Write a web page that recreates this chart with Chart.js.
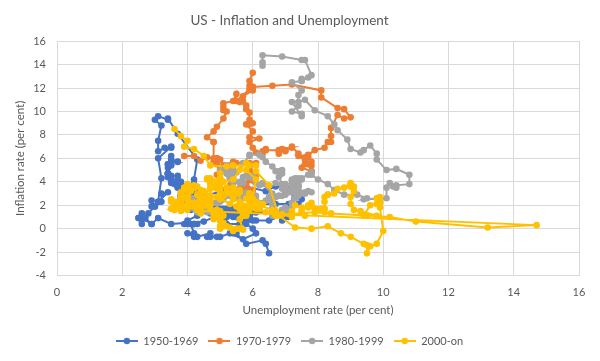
<!DOCTYPE html>
<html>
<head>
<meta charset="utf-8">
<script src="https://cdn.jsdelivr.net/npm/chart.js@4"></script>
<style>
  body { margin: 0; background: #fff; }
</style>
</head>
<body>
<canvas id="canvas" width="600" height="361"></canvas>
<script>
// monthly unemployment rate (x) and CPI inflation (y), per period
const unemp5069 = [
    6.5, 6.4, 6.3, 5.8, 5.5, 5.4, 5.0, 4.5, 4.4, 4.2, 4.2, 4.3,
    3.7, 3.4, 3.4, 3.1, 3.0, 3.2, 3.1, 3.1, 3.3, 3.5, 3.5, 3.1,
    3.2, 3.1, 2.9, 2.9, 3.0, 3.2, 3.2, 3.4, 3.1, 3.0, 2.8, 2.7,
    2.9, 2.6, 2.6, 2.7, 2.5, 2.5, 2.6, 2.7, 2.9, 3.1, 3.5, 4.5,
    4.9, 5.2, 5.7, 5.9, 5.9, 5.6, 5.8, 6.0, 6.1, 5.7, 5.3, 5.0,
    4.9, 4.7, 4.6, 4.7, 4.3, 4.2, 4.0, 4.2, 4.1, 4.3, 4.2, 4.2,
    4.0, 3.9, 4.2, 4.0, 4.3, 4.3, 4.4, 4.1, 3.9, 3.9, 4.3, 4.2,
    4.2, 3.9, 3.7, 3.9, 4.1, 4.3, 4.2, 4.1, 4.4, 4.5, 5.1, 5.2,
    5.8, 6.4, 6.7, 7.4, 7.4, 7.3, 7.5, 7.4, 7.1, 6.7, 6.2, 6.2,
    6.0, 5.9, 5.6, 5.2, 5.1, 5.0, 5.1, 5.2, 5.5, 5.7, 5.8, 5.3,
    5.2, 4.8, 5.4, 5.2, 5.1, 5.4, 5.5, 5.6, 5.5, 6.1, 6.1, 6.6,
    6.6, 6.9, 6.9, 7.0, 7.1, 6.9, 7.0, 6.6, 6.7, 6.5, 6.1, 6.0,
    5.8, 5.5, 5.6, 5.6, 5.5, 5.5, 5.4, 5.7, 5.6, 5.4, 5.7, 5.5,
    5.7, 5.9, 5.7, 5.7, 5.9, 5.6, 5.6, 5.4, 5.5, 5.5, 5.7, 5.5,
    5.6, 5.4, 5.4, 5.3, 5.1, 5.2, 4.9, 5.0, 5.1, 5.1, 4.8, 5.0,
    4.9, 5.1, 4.7, 4.8, 4.6, 4.6, 4.4, 4.4, 4.3, 4.2, 4.1, 4.0,
    4.0, 3.8, 3.8, 3.8, 3.9, 3.8, 3.8, 3.8, 3.7, 3.7, 3.6, 3.8,
    3.9, 3.8, 3.8, 3.8, 3.8, 3.9, 3.8, 3.8, 3.8, 4.0, 3.9, 3.8,
    3.7, 3.8, 3.7, 3.5, 3.5, 3.7, 3.7, 3.5, 3.4, 3.4, 3.4, 3.4,
    3.4, 3.4, 3.4, 3.4, 3.4, 3.5, 3.5, 3.5, 3.7, 3.7, 3.5, 3.5
];
const infl5069 = [
    -2.1, -1.3, -1.0, -1.3, -0.4, -0.4, 1.7, 2.2, 2.2, 3.8, 4.2, 5.9,
    8.1, 9.4, 9.3, 9.6, 9.3, 8.8, 7.5, 6.6, 6.9, 6.9, 7.0, 6.0,
    4.3, 2.3, 1.9, 2.4, 1.9, 2.3, 3.0, 3.1, 2.3, 1.9, 1.3, 0.9,
    0.4, 0.9, 1.3, 0.9, 0.9, 0.9, 0.4, 0.9, 0.4, 0.9, 0.4, 0.6,
    1.1, 1.5, 1.1, 0.8, 0.8, 0.4, 0.4, 0.0, -0.4, -0.9, -0.4, -0.7,
    -0.7, -0.7, -0.7, -0.4, -0.7, -0.7, -0.4, -0.4, 0.4, 0.4, 0.4, 0.4,
    0.4, 0.4, 0.4, 0.7, 1.1, 1.9, 2.2, 1.9, 1.9, 2.2, 2.2, 3.0,
    2.9, 3.6, 3.6, 3.6, 3.6, 3.3, 3.3, 3.6, 3.2, 2.8, 3.2, 2.9,
    3.6, 3.2, 3.6, 3.6, 3.2, 2.8, 2.5, 2.1, 2.1, 2.1, 2.1, 1.8,
    1.4, 1.1, 0.4, 0.4, 0.4, 0.7, 0.7, 1.1, 1.4, 1.7, 1.4, 1.7,
    1.0, 1.7, 1.7, 1.7, 1.7, 1.7, 1.4, 1.4, 1.0, 1.4, 1.4, 1.4,
    1.7, 1.4, 1.4, 1.0, 1.0, 0.7, 1.4, 1.0, 1.4, 0.7, 0.7, 0.7,
    0.7, 1.0, 1.0, 1.3, 1.3, 1.3, 1.0, 1.3, 1.3, 1.3, 1.3, 1.3,
    1.3, 1.0, 1.0, 1.0, 1.0, 1.3, 1.3, 1.3, 1.0, 1.3, 1.3, 1.6,
    1.6, 1.6, 1.3, 1.3, 1.3, 1.3, 1.3, 1.0, 1.3, 1.0, 1.3, 1.0,
    1.0, 1.0, 1.3, 1.6, 1.6, 1.9, 1.6, 1.9, 1.6, 1.9, 1.6, 1.9,
    1.9, 2.5, 2.5, 2.8, 2.8, 2.5, 2.8, 3.5, 3.5, 3.8, 3.8, 3.5,
    3.5, 2.8, 2.8, 2.5, 2.5, 2.8, 2.8, 2.5, 2.8, 2.5, 2.8, 3.1,
    3.7, 4.0, 4.0, 3.9, 4.2, 4.2, 4.5, 4.5, 4.4, 4.7, 4.7, 4.7,
    4.4, 4.7, 5.2, 5.5, 5.5, 5.5, 5.4, 5.7, 5.7, 5.7, 5.9, 6.2
];

const unemp7079 = [
    3.9, 4.2, 4.4, 4.6, 4.8, 4.9, 5.0, 5.1, 5.4, 5.5, 5.9, 6.1,
    5.9, 5.9, 6.0, 5.9, 5.9, 5.9, 6.0, 6.1, 6.0, 5.8, 6.0, 6.0,
    5.8, 5.7, 5.8, 5.7, 5.7, 5.7, 5.6, 5.6, 5.5, 5.6, 5.3, 5.2,
    4.9, 5.0, 4.9, 5.0, 4.9, 4.9, 4.8, 4.8, 4.8, 4.6, 4.8, 4.9,
    5.1, 5.2, 5.1, 5.1, 5.1, 5.4, 5.5, 5.5, 5.9, 6.0, 6.6, 7.2,
    8.1, 8.1, 8.6, 8.8, 9.0, 8.8, 8.6, 8.4, 8.4, 8.4, 8.3, 8.2,
    7.9, 7.7, 7.6, 7.7, 7.4, 7.6, 7.8, 7.8, 7.6, 7.7, 7.8, 7.8,
    7.5, 7.6, 7.4, 7.2, 7.0, 7.2, 6.9, 7.0, 6.8, 6.8, 6.8, 6.4,
    6.4, 6.3, 6.3, 6.1, 6.0, 5.9, 6.2, 5.9, 6.0, 5.8, 5.9, 6.0,
    5.9, 5.9, 5.8, 5.8, 5.6, 5.7, 5.7, 6.0, 5.9, 6.0, 5.9, 6.0
];
const infl7079 = [
    6.2, 6.2, 5.8, 6.1, 6.0, 6.0, 5.9, 5.4, 5.7, 5.6, 5.6, 5.6,
    5.3, 5.0, 4.7, 4.2, 4.4, 4.6, 4.4, 4.6, 4.1, 3.8, 3.3, 3.3,
    3.3, 3.5, 3.5, 3.5, 3.2, 2.7, 2.9, 2.9, 3.2, 3.4, 3.7, 3.4,
    3.6, 3.9, 4.6, 5.1, 5.5, 6.0, 5.7, 7.4, 7.4, 7.8, 8.3, 8.7,
    9.4, 10.0, 10.4, 10.1, 10.7, 10.9, 11.5, 10.9, 11.9, 12.1, 12.2, 12.3,
    11.8, 11.2, 10.3, 10.2, 9.5, 9.4, 9.7, 8.6, 7.9, 7.4, 7.4, 6.9,
    6.7, 6.3, 6.1, 6.1, 6.2, 5.9, 5.4, 5.7, 5.5, 5.5, 4.9, 4.9,
    5.2, 6.0, 6.4, 7.0, 6.7, 6.9, 6.8, 6.6, 6.6, 6.4, 6.7, 6.7,
    6.8, 6.4, 6.6, 6.5, 6.9, 7.4, 7.7, 7.8, 8.3, 8.9, 8.9, 9.0,
    9.3, 9.9, 10.2, 10.5, 10.8, 10.9, 11.3, 11.8, 12.2, 12.1, 12.6, 13.3
];

const unemp8099 = [
    6.3, 6.3, 6.3, 6.9, 7.5, 7.6, 7.8, 7.7, 7.5, 7.5, 7.5, 7.2,
    7.5, 7.4, 7.4, 7.2, 7.5, 7.5, 7.2, 7.4, 7.6, 7.9, 8.3, 8.5,
    8.6, 8.9, 9.0, 9.3, 9.4, 9.6, 9.8, 9.8, 10.1, 10.4, 10.8, 10.8,
    10.4, 10.4, 10.3, 10.2, 10.1, 10.1, 9.4, 9.5, 9.2, 8.8, 8.5, 8.3,
    8.0, 7.8, 7.8, 7.7, 7.4, 7.2, 7.5, 7.5, 7.3, 7.4, 7.2, 7.3,
    7.3, 7.2, 7.2, 7.3, 7.2, 7.4, 7.4, 7.1, 7.1, 7.1, 7.0, 7.0,
    6.7, 7.2, 7.2, 7.1, 7.2, 7.2, 7.0, 6.9, 7.0, 7.0, 6.9, 6.6,
    6.6, 6.6, 6.6, 6.3, 6.3, 6.2, 6.1, 6.0, 5.9, 6.0, 5.8, 5.7,
    5.7, 5.7, 5.7, 5.4, 5.6, 5.4, 5.4, 5.6, 5.4, 5.4, 5.3, 5.3,
    5.4, 5.2, 5.0, 5.2, 5.2, 5.3, 5.2, 5.2, 5.3, 5.3, 5.4, 5.4,
    5.4, 5.3, 5.2, 5.4, 5.4, 5.2, 5.5, 5.7, 5.9, 5.9, 6.2, 6.3,
    6.4, 6.6, 6.8, 6.7, 6.9, 6.9, 6.8, 6.9, 6.9, 7.0, 7.0, 7.3,
    7.3, 7.4, 7.4, 7.4, 7.6, 7.8, 7.7, 7.6, 7.6, 7.3, 7.4, 7.4,
    7.3, 7.1, 7.0, 7.1, 7.1, 7.0, 6.9, 6.8, 6.7, 6.8, 6.6, 6.5,
    6.6, 6.6, 6.5, 6.4, 6.1, 6.1, 6.1, 6.0, 5.9, 5.8, 5.6, 5.5,
    5.6, 5.4, 5.4, 5.8, 5.6, 5.6, 5.7, 5.7, 5.6, 5.5, 5.6, 5.6,
    5.6, 5.5, 5.5, 5.6, 5.6, 5.3, 5.5, 5.1, 5.2, 5.2, 5.4, 5.4,
    5.3, 5.2, 5.2, 5.1, 4.9, 5.0, 4.9, 4.8, 4.9, 4.7, 4.6, 4.7,
    4.6, 4.6, 4.7, 4.3, 4.4, 4.5, 4.5, 4.5, 4.6, 4.5, 4.4, 4.4,
    4.3, 4.4, 4.2, 4.3, 4.2, 4.3, 4.3, 4.2, 4.2, 4.1, 4.1, 4.0
];
const infl8099 = [
    13.9, 14.2, 14.8, 14.7, 14.4, 14.4, 13.1, 12.9, 12.6, 12.8, 12.6, 12.5,
    11.8, 11.4, 10.5, 10.0, 9.8, 9.6, 10.8, 10.8, 11.0, 10.1, 9.6, 8.9,
    8.4, 7.6, 6.8, 6.5, 6.7, 7.1, 6.4, 5.9, 5.0, 5.1, 4.6, 3.8,
    3.7, 3.5, 3.6, 3.9, 3.5, 2.6, 2.5, 2.6, 2.9, 2.9, 3.3, 3.8,
    4.2, 4.6, 4.8, 4.6, 4.2, 4.2, 4.2, 4.3, 4.3, 4.3, 4.1, 3.9,
    3.5, 3.5, 3.7, 3.7, 3.8, 3.8, 3.6, 3.3, 3.1, 3.2, 3.5, 3.8,
    3.9, 3.1, 2.2, 1.6, 1.5, 1.8, 1.6, 1.6, 1.8, 1.5, 1.3, 1.1,
    1.5, 2.1, 3.0, 3.8, 3.9, 3.7, 3.9, 4.3, 4.4, 4.5, 4.5, 4.4,
    4.0, 3.9, 3.9, 3.9, 3.9, 4.0, 4.1, 4.0, 4.2, 4.2, 4.2, 4.4,
    4.7, 4.8, 5.0, 5.1, 5.4, 5.2, 5.0, 4.7, 4.3, 4.5, 4.7, 4.6,
    5.2, 5.3, 5.2, 4.7, 4.4, 4.7, 4.8, 5.6, 6.2, 6.3, 6.3, 6.1,
    5.7, 5.3, 4.9, 4.9, 5.0, 4.7, 4.4, 3.8, 3.4, 2.9, 3.0, 3.1,
    2.6, 2.8, 3.2, 3.2, 3.0, 3.1, 3.2, 3.1, 3.0, 3.2, 3.0, 2.9,
    3.3, 3.2, 3.1, 3.2, 3.2, 3.0, 2.8, 2.8, 2.7, 2.8, 2.7, 2.7,
    2.5, 2.5, 2.5, 2.4, 2.3, 2.5, 2.8, 2.9, 3.0, 2.6, 2.7, 2.7,
    2.8, 2.9, 2.9, 3.1, 3.2, 3.0, 2.8, 2.6, 2.5, 2.8, 2.6, 2.5,
    2.7, 2.7, 2.8, 2.9, 2.9, 2.8, 3.0, 2.9, 3.0, 3.0, 3.3, 3.3,
    3.0, 3.0, 2.8, 2.5, 2.2, 2.3, 2.2, 2.2, 2.2, 2.1, 1.8, 1.7,
    1.6, 1.4, 1.4, 1.4, 1.7, 1.7, 1.7, 1.6, 1.5, 1.5, 1.5, 1.6,
    1.7, 1.6, 1.7, 2.3, 2.1, 2.0, 2.1, 2.3, 2.6, 2.6, 2.6, 2.7
];

const unemp2000 = [
    4.0, 4.1, 4.0, 3.8, 4.0, 4.0, 4.0, 4.1, 3.9, 3.9, 3.9, 3.9,
    4.2, 4.2, 4.3, 4.4, 4.3, 4.5, 4.6, 4.9, 5.0, 5.3, 5.5, 5.7,
    5.7, 5.7, 5.7, 5.9, 5.8, 5.8, 5.8, 5.7, 5.7, 5.7, 5.9, 6.0,
    5.8, 5.9, 5.9, 6.0, 6.1, 6.3, 6.2, 6.1, 6.1, 6.0, 5.8, 5.7,
    5.7, 5.6, 5.8, 5.6, 5.6, 5.6, 5.5, 5.4, 5.4, 5.5, 5.4, 5.4,
    5.3, 5.4, 5.2, 5.2, 5.1, 5.0, 5.0, 4.9, 5.0, 5.0, 5.0, 4.9,
    4.7, 4.8, 4.7, 4.7, 4.6, 4.6, 4.7, 4.7, 4.5, 4.4, 4.5, 4.4,
    4.6, 4.5, 4.4, 4.5, 4.4, 4.6, 4.7, 4.6, 4.7, 4.7, 4.7, 5.0,
    5.0, 4.9, 5.1, 5.0, 5.4, 5.6, 5.8, 6.1, 6.1, 6.5, 6.8, 7.3,
    7.8, 8.3, 8.7, 9.0, 9.4, 9.5, 9.5, 9.6, 9.8, 10.0, 9.9, 9.9,
    9.8, 9.8, 9.9, 9.9, 9.6, 9.4, 9.4, 9.5, 9.5, 9.4, 9.8, 9.3,
    9.1, 9.0, 9.0, 9.1, 9.0, 9.1, 9.0, 9.0, 9.0, 8.8, 8.6, 8.5,
    8.3, 8.3, 8.2, 8.2, 8.2, 8.2, 8.2, 8.1, 7.8, 7.8, 7.7, 7.9,
    8.0, 7.7, 7.5, 7.6, 7.5, 7.5, 7.3, 7.2, 7.2, 7.2, 6.9, 6.7,
    6.6, 6.7, 6.7, 6.2, 6.3, 6.1, 6.2, 6.1, 5.9, 5.7, 5.8, 5.6,
    5.7, 5.5, 5.4, 5.4, 5.6, 5.3, 5.2, 5.1, 5.0, 5.0, 5.1, 5.0,
    4.8, 4.9, 5.0, 5.1, 4.8, 4.9, 4.8, 4.9, 5.0, 4.9, 4.7, 4.7,
    4.7, 4.6, 4.4, 4.4, 4.4, 4.3, 4.3, 4.4, 4.3, 4.2, 4.2, 4.1,
    4.0, 4.1, 4.0, 4.0, 3.8, 4.0, 3.8, 3.8, 3.7, 3.8, 3.8, 3.9,
    4.0, 3.8, 3.8, 3.7, 3.6, 3.6, 3.7, 3.6, 3.5, 3.6, 3.6, 3.6,
    3.5, 3.5, 4.4, 14.7, 13.2, 11.0, 10.2, 8.4, 7.9, 6.9, 6.7, 6.7,
    6.4, 6.2, 6.0, 6.1, 5.8, 5.9, 5.4, 5.2, 4.7, 4.5, 4.2, 3.9,
    4.0, 3.8, 3.6
];
const infl2000 = [
    2.7, 3.2, 3.8, 3.1, 3.2, 3.7, 3.7, 3.4, 3.5, 3.4, 3.4, 3.4,
    3.7, 3.5, 2.9, 3.3, 3.6, 3.2, 2.7, 2.7, 2.6, 2.1, 1.9, 1.6,
    1.1, 1.1, 1.5, 1.6, 1.2, 1.1, 1.5, 1.8, 1.5, 2.0, 2.2, 2.4,
    2.6, 3.0, 3.0, 2.2, 2.1, 2.1, 2.1, 2.2, 2.3, 2.0, 1.8, 1.9,
    1.9, 1.7, 1.7, 2.3, 3.1, 3.3, 3.0, 2.7, 2.5, 3.2, 3.5, 3.3,
    3.0, 3.0, 3.1, 3.5, 2.8, 2.5, 3.2, 3.6, 4.7, 4.3, 3.5, 3.4,
    4.0, 3.6, 3.4, 3.5, 4.2, 4.3, 4.1, 3.8, 2.1, 1.3, 2.0, 2.5,
    2.1, 2.4, 2.8, 2.6, 2.7, 2.7, 2.4, 2.0, 2.8, 3.5, 4.3, 4.1,
    4.3, 4.0, 4.0, 3.9, 4.2, 5.0, 5.6, 5.4, 4.9, 3.7, 1.1, 0.1,
    0.0, 0.2, -0.4, -0.7, -1.3, -1.4, -2.1, -1.5, -1.3, -0.2, 1.8, 2.7,
    2.6, 2.1, 2.3, 2.2, 2.0, 1.1, 1.2, 1.1, 1.1, 1.2, 1.1, 1.5,
    1.6, 2.1, 2.7, 3.2, 3.6, 3.6, 3.6, 3.8, 3.9, 3.5, 3.4, 3.0,
    2.9, 2.9, 2.7, 2.3, 1.7, 1.7, 1.4, 1.7, 2.0, 2.2, 1.8, 1.7,
    1.6, 2.0, 1.5, 1.1, 1.4, 1.8, 2.0, 1.5, 1.2, 1.0, 1.2, 1.5,
    1.6, 1.1, 1.5, 2.0, 2.1, 2.1, 2.0, 1.7, 1.7, 1.7, 1.3, 0.8,
    -0.1, 0.0, -0.1, -0.2, 0.0, 0.1, 0.2, 0.2, 0.0, 0.2, 0.5, 0.7,
    1.4, 1.0, 0.9, 1.1, 1.0, 1.0, 0.8, 1.1, 1.5, 1.6, 1.7, 2.1,
    2.5, 2.7, 2.4, 2.2, 1.9, 1.6, 1.7, 1.9, 2.2, 2.0, 2.2, 2.1,
    2.1, 2.2, 2.4, 2.5, 2.8, 2.9, 2.9, 2.7, 2.3, 2.5, 2.2, 1.9,
    1.6, 1.5, 1.9, 2.0, 1.8, 1.6, 1.8, 1.7, 1.7, 1.8, 2.1, 2.3,
    2.5, 2.3, 1.5, 0.3, 0.1, 0.6, 1.0, 1.3, 1.4, 1.2, 1.2, 1.4,
    1.4, 1.7, 2.6, 4.2, 5.0, 5.4, 5.4, 5.3, 5.4, 6.2, 6.8, 7.0,
    7.5, 7.9, 8.5
];

const seriesNames = ['1950-1969', '1970-1979', '1980-1999', '2000-on'];
const seriesColors = ['#4472C4', '#ED7D31', '#A5A5A5', '#FFC000'];
const xTicks = [0, 2, 4, 6, 8, 10, 12, 14, 16];
const yTicks = [-4, -2, 0, 2, 4, 6, 8, 10, 12, 14, 16];

const textColor = '#595959';
const fontFamily = 'Lato, "Open Sans", sans-serif';

function toPoints(xs, ys) {
    return xs.map((x, i) => ({ x: x, y: ys[i] }));
}

// little line-with-dot marker for the legend
function legendMarker(color) {
    const c = document.createElement('canvas');
    c.width = 22;
    c.height = 8;
    const ctx = c.getContext('2d');
    ctx.strokeStyle = color;
    ctx.lineWidth = 2;
    ctx.beginPath();
    ctx.moveTo(0, 4);
    ctx.lineTo(22, 4);
    ctx.stroke();
    ctx.fillStyle = color;
    ctx.beginPath();
    ctx.arc(11, 4, 3.2, 0, Math.PI * 2);
    ctx.fill();
    return c;
}

const allX = [unemp5069, unemp7079, unemp8099, unemp2000];
const allY = [infl5069, infl7079, infl8099, infl2000];

const datasets = seriesNames.map((name, i) => ({
    label: name,
    data: toPoints(allX[i], allY[i]),
    showLine: true,
    borderColor: seriesColors[i],
    backgroundColor: seriesColors[i],
    borderWidth: 2,
    pointRadius: 3.3,
    pointBorderWidth: 0,
    pointHoverRadius: 3.3,
    order: seriesNames.length - i, // later series on top, like the original
}));

new Chart('canvas', {
    type: 'scatter',
    data: { datasets: datasets },
    options: {
        responsive: false,
        animation: false,
        devicePixelRatio: 1,
        layout: { padding: { left: 0, right: 21, top: 0, bottom: 4.5 } },
        plugins: {
            title: {
                display: true,
                text: 'US - Inflation and Unemployment',
                color: textColor,
                font: { family: fontFamily, size: 13.5, weight: 'normal' },
                padding: { top: 13, bottom: 12 },
            },
            legend: {
                position: 'bottom',
                labels: {
                    color: textColor,
                    font: { family: fontFamily, size: 11 },
                    usePointStyle: true,
                    pointStyleWidth: 22,
                    padding: 10,
                    generateLabels: (chart) => {
                        const items = Chart.defaults.plugins.legend.labels.generateLabels(chart);
                        items.forEach((item) => {
                            item.pointStyle = legendMarker(seriesColors[item.datasetIndex]);
                        });
                        items.sort((a, b) => a.datasetIndex - b.datasetIndex);
                        return items;
                    },
                },
            },
            tooltip: { enabled: false },
        },
        scales: {
            x: {
                type: 'linear',
                min: 0,
                max: 16,
                afterBuildTicks: (axis) => {
                    axis.ticks = xTicks.map((v) => ({ value: v }));
                },
                afterFit: (axis) => {
                    axis.height = 50;
                },
                grid: { color: '#d9d9d9', drawTicks: false },
                border: { display: false },
                ticks: {
                    color: textColor,
                    font: { family: fontFamily, size: 11 },
                    padding: 10,
                },
                title: {
                    display: true,
                    text: 'Unemployment rate (per cent)',
                    color: textColor,
                    font: { family: fontFamily, size: 11.5 },
                    padding: { top: 0, bottom: 8 },
                },
            },
            y: {
                type: 'linear',
                min: -4,
                max: 16,
                afterBuildTicks: (axis) => {
                    axis.ticks = yTicks.map((v) => ({ value: v }));
                },
                afterFit: (axis) => {
                    axis.width = 57;
                },
                grid: { color: '#d9d9d9', drawTicks: false },
                border: { display: false },
                ticks: {
                    color: textColor,
                    font: { family: fontFamily, size: 11 },
                    padding: 11,
                },
                title: {
                    display: true,
                    text: 'Inflation rate (per cent)',
                    color: textColor,
                    font: { family: fontFamily, size: 11.5 },
                    padding: { top: 13, bottom: 0 },
                },
            },
        },
    },
});
</script>
</body>
</html>
